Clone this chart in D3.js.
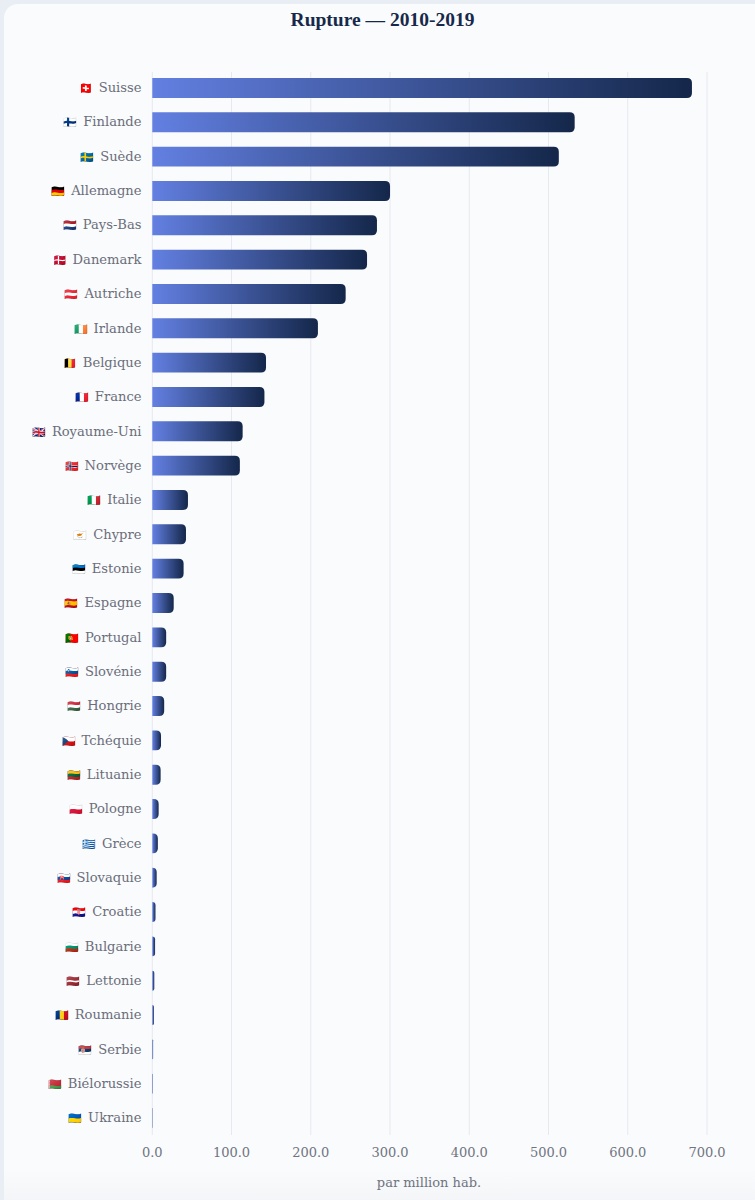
<!DOCTYPE html>
<html><head><meta charset="utf-8">
<script src="https://cdn.jsdelivr.net/npm/d3@7/dist/d3.min.js"></script>
<style>html,body{margin:0;padding:0;background:#e9eef4;width:755px;height:1200px;overflow:hidden}</style>
</head><body><div id="chart"></div>
<script>
const categories=["Suisse","Finlande","Suède","Allemagne","Pays-Bas","Danemark","Autriche","Irlande","Belgique","France","Royaume-Uni","Norvège","Italie","Chypre","Estonie","Espagne","Portugal","Slovénie","Hongrie","Tchéquie","Lituanie","Pologne","Grèce","Slovaquie","Croatie","Bulgarie","Lettonie","Roumanie","Serbie","Biélorussie","Ukraine"];
const emoji=["🇨🇭","🇫🇮","🇸🇪","🇩🇪","🇳🇱","🇩🇰","🇦🇹","🇮🇪","🇧🇪","🇫🇷","🇬🇧","🇳🇴","🇮🇹","🇨🇾","🇪🇪","🇪🇸","🇵🇹","🇸🇮","🇭🇺","🇨🇿","🇱🇹","🇵🇱","🇬🇷","🇸🇰","🇭🇷","🇧🇬","🇱🇻","🇷🇴","🇷🇸","🇧🇾","🇺🇦"];
const values=[681,533,513,300,283.5,271,244,209,143.5,141.5,114,110.5,45,42.5,39.5,27,17.5,17.5,15,11,10.5,8,7,5.5,4,3.5,2.5,2,1,0.7,0.5];
const ticks=[0,100,200,300,400,500,600,700];
const W=755,H=1200;
const svg=d3.select("#chart").append("svg").attr("width",W).attr("height",H).style("display","block");
const defs=svg.append("defs");
const cg=defs.append("linearGradient").attr("id","card").attr("x1",0).attr("y1",0).attr("x2",0).attr("y2",1);
cg.append("stop").attr("offset","0.955").attr("stop-color","#fafbfd");
cg.append("stop").attr("offset","1").attr("stop-color","#eff1f4");
const bg=defs.append("linearGradient").attr("id","bar").attr("x1",0).attr("y1",0).attr("x2",1).attr("y2",0);
bg.append("stop").attr("offset","0").attr("stop-color","#6380e2");
bg.append("stop").attr("offset","1").attr("stop-color","#14274a");
svg.append("rect").attr("x",4).attr("y",4).attr("width",W+20).attr("height",H+20).attr("rx",14).attr("fill","url(#card)");
const x=d3.scaleLinear().domain([0,700]).range([152.3,707]);
const y=d3.scaleBand().domain(categories).range([70.8,1135.2]).paddingInner(0.42).paddingOuter(0.21);
const serif="'DejaVu Serif','Liberation Serif',serif";
const g=svg.append("g");
g.selectAll("line.grid").data(ticks).join("line").attr("class","grid")
 .attr("x1",d=>x(d)).attr("x2",d=>x(d)).attr("y1",72).attr("y2",1135).attr("stroke","#e6e9ef").attr("stroke-width",1);
g.selectAll("path.bar").data(values).join("path").attr("class","bar")
 .attr("d",(v,i)=>{const x0=x(0),x1=x(v),t=y(categories[i]),h=y.bandwidth(),r=Math.min(5,x1-x0);
   return `M${x0},${t}H${x1-r}Q${x1},${t} ${x1},${t+r}V${t+h-r}Q${x1},${t+h} ${x1-r},${t+h}H${x0}Z`;})
 .attr("fill","url(#bar)");
const labels=g.selectAll("text.cat").data(categories).join("text").attr("class","cat")
 .attr("x",141.5).attr("y",d=>y(d)+y.bandwidth()/2-0.4).attr("dy","0.35em").attr("text-anchor","end")
 .attr("font-family",serif).attr("font-size",13.1).attr("fill","#6a6e7a");
labels.append("tspan").attr("font-size",11).text((d,i)=>emoji[i]);
labels.append("tspan").attr("dx",6).text(d=>d);
g.selectAll("text.tick").data(ticks).join("text").attr("class","tick")
 .attr("x",d=>x(d)).attr("y",1152).attr("dy","0.35em").attr("text-anchor","middle")
 .attr("font-family",serif).attr("font-size",13).attr("fill","#6f7480").text(d=>d.toFixed(1));
svg.append("text").attr("x",429).attr("y",1187).attr("text-anchor","middle").attr("font-family",serif).attr("font-size",13).attr("fill","#6f7480").text("par million hab.");
svg.append("text").attr("x",382.5).attr("y",26).attr("text-anchor","middle").attr("font-family","'Liberation Serif',serif").attr("font-weight",700).attr("font-size",19.5).attr("fill","#16294a").text("Rupture — 2010-2019");
</script></body></html>
